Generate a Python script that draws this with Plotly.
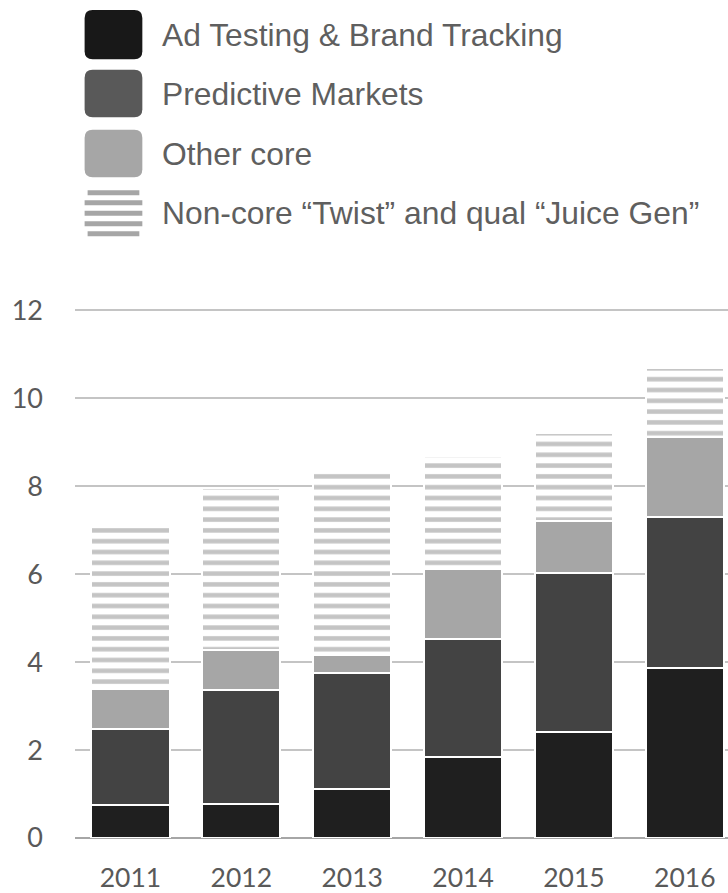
import plotly.graph_objects as go

years = ["2011", "2012", "2013", "2014", "2015", "2016"]
series_names = ["Ad Testing & Brand Tracking", "Predictive Markets", "Other core",
                "Non-core \u201cTwist\u201d and qual \u201cJuice Gen\u201d"]
ad_testing = [0.76, 0.77, 1.12, 1.85, 2.42, 3.86]
predictive = [1.72, 2.60, 2.63, 2.68, 3.60, 3.45]
other_core = [0.91, 0.91, 0.42, 1.58, 1.19, 1.82]
non_core = [3.69, 3.67, 4.24, 2.58, 2.01, 1.55]
y_ticks = [0, 2, 4, 6, 8, 10, 12]

W, H = 728, 893
YMAX = 12.03
ML, MR, MT, MB = 75.4, 0, 310.5 - 0.03 * 44, 54.7
PW, PH = W - ML - MR, H - MT - MB

def px(x):
    return (x - ML) / PW

def py(y):
    return (H - MB - y) / PH

fig = go.Figure()
line = dict(color="white", width=2)
fig.add_trace(go.Bar(x=years, y=ad_testing, name=series_names[0],
                     marker=dict(color="#1f1f1f", line=line)))
fig.add_trace(go.Bar(x=years, y=predictive, name=series_names[1],
                     marker=dict(color="#434343", line=line)))
fig.add_trace(go.Bar(x=years, y=other_core, name=series_names[2],
                     marker=dict(color="#a6a6a6", line=line)))
fig.add_trace(go.Bar(x=years, y=non_core, name=series_names[3],
                     marker=dict(color="white", line=line,
                                 pattern=dict(shape="-", fgcolor="#8a8a8a", bgcolor="white",
                                              size=10.8, solidity=0.42, fillmode="overlay"))))

# legend drawn manually
shapes = []
annotations = []
sw_x0, sw_x1 = 85, 142.7
rows = [(10, 59.3), (70, 117.3), (130, 177.3), (190, 237.3)]
sw_colors = ["#181818", "#595959", "#a6a6a6", None]
r = 8

def rounded(x0, y0, x1, y1, rad):
    X0, X1 = px(x0), px(x1)
    Y0, Y1 = py(y0), py(y1)
    rx = rad / PW
    ry = rad / PH
    return (f"M {X0+rx},{Y0} L {X1-rx},{Y0} Q {X1},{Y0} {X1},{Y0-ry} "
            f"L {X1},{Y1+ry} Q {X1},{Y1} {X1-rx},{Y1} L {X0+rx},{Y1} "
            f"Q {X0},{Y1} {X0},{Y1+ry} L {X0},{Y0-ry} Q {X0},{Y0} {X0+rx},{Y0} Z")

for i, (y0, y1) in enumerate(rows):
    if sw_colors[i]:
        shapes.append(dict(type="path", xref="paper", yref="paper",
                           path=rounded(sw_x0, y0, sw_x1, y1, r),
                           fillcolor=sw_colors[i], line=dict(width=0), layer="above"))
    else:
        for k, cy in enumerate([193, 203, 213.5, 224, 234]):
            inset = 3 if k in (0, 4) else 0
            shapes.append(dict(type="rect", xref="paper", yref="paper",
                               x0=px(sw_x0 + inset), x1=px(sw_x1 - inset),
                               y0=py(cy - 2.5), y1=py(cy + 2.5),
                               fillcolor="#a6a6a6", line=dict(width=0), layer="above"))
    annotations.append(dict(xref="paper", yref="paper", x=px(160), y=py((y0 + y1) / 2),
                            text=series_names[i], showarrow=False, xanchor="left",
                            yanchor="middle",
                            font=dict(family="Liberation Sans, Arial", size=31.8, color="#5f5f5f")))

fig.update_layout(
    width=W, height=H, autosize=False,
    margin=dict(l=ML, r=MR, t=MT, b=MB, pad=0, autoexpand=False),
    barmode="stack", bargap=0.293,
    plot_bgcolor="white", paper_bgcolor="white",
    showlegend=False,
    shapes=shapes, annotations=annotations,
    xaxis=dict(range=[-0.5, (W - ML) / 110.8 - 0.5], showgrid=False, showline=False,
               zeroline=False, ticks="", ticklabelstandoff=21, automargin=False,
               tickfont=dict(family="Lato", size=26.5, color="#595959")),
    yaxis=dict(range=[0, YMAX], tickvals=y_ticks, showgrid=True, gridcolor="#c4c4c4",
               gridwidth=1.5, zeroline=True, zerolinecolor="#a6a6a6", zerolinewidth=1.5,
               showline=False, ticks="", ticklabelstandoff=31, automargin=False,
               tickfont=dict(family="Lato", size=27, color="#595959")),
)

fig.write_html("out.html")
